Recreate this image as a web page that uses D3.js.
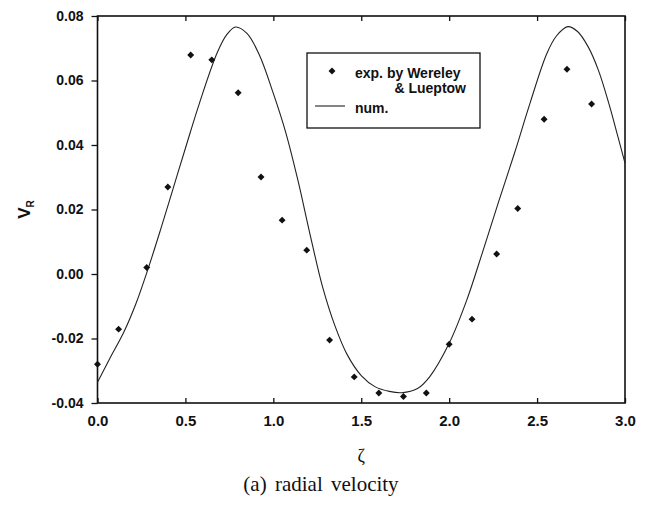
<!DOCTYPE html>
<html>
<head>
<meta charset="utf-8">
<script src="https://cdn.jsdelivr.net/npm/d3@7"></script>
<style>
  body { margin: 0; background: #fff; }
  svg { display: block; }
</style>
</head>
<body>
<div id="chart"></div>
<script>
// Radial velocity: experiment vs numerical

// experimental points (Wereley & Lueptow)
const expZeta = [0.00, 0.12, 0.28, 0.40, 0.53, 0.65, 0.80, 0.93, 1.05, 1.19, 1.32,
                 1.46, 1.60, 1.74, 1.87, 2.00, 2.13, 2.27, 2.39, 2.54, 2.67, 2.81];
const expV = [-0.0280, -0.0171, 0.0020, 0.0270, 0.0679, 0.0664, 0.0562, 0.0301, 0.0167, 0.0074, -0.0205,
              -0.0319, -0.0369, -0.0380, -0.0369, -0.0218, -0.0140, 0.0062, 0.0203, 0.0480, 0.0635, 0.0527];

// numerical curve
const numZeta = [0.00, 0.07, 0.15, 0.22, 0.29, 0.36, 0.43, 0.50, 0.58, 0.68, 0.735, 0.785,
                 0.85, 0.92, 1.00, 1.07, 1.14, 1.21, 1.28, 1.35, 1.42, 1.50, 1.58, 1.66, 1.73,
                 1.82, 1.89, 2.00, 2.10, 2.19, 2.28, 2.37, 2.46, 2.555, 2.61, 2.675,
                 2.73, 2.79, 2.85, 2.91, 2.96, 3.00];
const numV = [-0.0336, -0.0262, -0.0180, -0.0090, 0.0020, 0.0140, 0.0265, 0.0390, 0.0530, 0.0685, 0.0742, 0.0766,
              0.0746, 0.0680, 0.0560, 0.0440, 0.0290, 0.0120, -0.0040, -0.0160, -0.0250, -0.0315, -0.0350, -0.0364, -0.0368,
              -0.0355, -0.0318, -0.0215, -0.0081, 0.0068, 0.0222, 0.0372, 0.0530, 0.0683, 0.0738, 0.0767,
              0.0752, 0.0705, 0.0630, 0.0525, 0.0425, 0.0344];

const xTicks = [0.0, 0.5, 1.0, 1.5, 2.0, 2.5, 3.0];
const yTicks = [-0.04, -0.02, 0.00, 0.02, 0.04, 0.06, 0.08];

const legendLabels = ["exp. by Wereley", "& Lueptow", "num."];

function drawChart() {
    const W = 649, H = 510;
    const margin = {top: 16, right: 24, bottom: 107, left: 97.5},
          width = W - margin.left - margin.right,
          height = H - margin.top - margin.bottom;

    const root = d3.select("#chart").append("svg")
        .attr("width", W)
        .attr("height", H);

    const svg = root.append("g")
        .attr("transform", `translate(${margin.left},${margin.top})`);

    const x = d3.scaleLinear().domain([0, 3]).range([0, width]);
    const y = d3.scaleLinear().domain([-0.04, 0.08]).range([height, 0]);

    const tickFont = "'Liberation Sans', Arial, sans-serif";

    // bottom axis, ticks point inward
    const xAxis = svg.append("g")
        .attr("transform", `translate(0,${height})`)
        .call(d3.axisBottom(x).tickValues(xTicks).tickSize(-5).tickPadding(12)
            .tickFormat(d3.format(".1f")));
    xAxis.select(".domain").remove();
    xAxis.selectAll("text")
        .style("font-family", tickFont)
        .style("font-size", "15px")
        .style("font-weight", "bold")
        .attr("fill", "#111");

    // top ticks (no labels)
    const xTop = svg.append("g")
        .call(d3.axisTop(x).tickValues(xTicks).tickSize(-5).tickFormat(""));
    xTop.select(".domain").remove();

    // left axis, ticks outward
    const yAxis = svg.append("g")
        .call(d3.axisLeft(y).tickValues(yTicks).tickSize(6).tickPadding(8)
            .tickFormat(d => d.toFixed(2)));
    yAxis.select(".domain").remove();
    yAxis.selectAll("text")
        .style("font-family", tickFont)
        .style("font-size", "14px")
        .style("font-weight", "bold")
        .attr("fill", "#111");

    svg.selectAll(".tick line").attr("stroke", "#111").attr("stroke-width", 1.3);

    // frame
    svg.append("rect")
        .attr("x", 0).attr("y", 0)
        .attr("width", width).attr("height", height)
        .attr("fill", "none")
        .attr("stroke", "#111")
        .attr("stroke-width", 1.6);

    // numerical curve
    const numData = numZeta.map((z, i) => ({z: z, v: numV[i]}));
    const line = d3.line()
        .x(d => x(d.z))
        .y(d => y(d.v))
        .curve(d3.curveCatmullRom.alpha(0.5));

    svg.append("path")
        .datum(numData)
        .attr("d", line)
        .attr("fill", "none")
        .attr("stroke", "#222")
        .attr("stroke-width", 1.1);

    // experimental points
    const expData = expZeta.map((z, i) => ({z: z, v: expV[i]}));
    const diamond = d3.symbol().type(d3.symbolSquare).size(24);
    svg.selectAll(".dot")
        .data(expData)
        .enter()
        .append("path")
        .attr("class", "dot")
        .attr("d", diamond)
        .attr("transform", d => `translate(${x(d.z)},${y(d.v)}) rotate(45)`)
        .attr("fill", "#111");

    // legend
    const legend = svg.append("g")
        .attr("transform", `translate(${307 - margin.left},${53 - margin.top})`);

    legend.append("rect")
        .attr("x", 0).attr("y", 0)
        .attr("width", 173).attr("height", 75)
        .attr("fill", "#fff")
        .attr("stroke", "#111")
        .attr("stroke-width", 1.3);

    legend.append("path")
        .attr("d", diamond)
        .attr("transform", "translate(25,18) rotate(45)")
        .attr("fill", "#111");

    legend.append("line")
        .attr("x1", 8).attr("x2", 38)
        .attr("y1", 53).attr("y2", 53)
        .attr("stroke", "#222")
        .attr("stroke-width", 1.1);

    const legText = legend.append("g")
        .style("font-family", tickFont)
        .style("font-size", "14px")
        .style("font-weight", "bold")
        .attr("fill", "#111");

    legText.append("text").attr("x", 48).attr("y", 25).text(legendLabels[0]);
    legText.append("text").attr("x", 159).attr("y", 40)
        .attr("text-anchor", "end").text(legendLabels[1]);
    legText.append("text").attr("x", 48).attr("y", 60).text(legendLabels[2]);

    // y label V_R
    const yLab = root.append("text")
        .attr("transform", `translate(30,${margin.top + height / 2}) rotate(-90)`)
        .attr("text-anchor", "middle")
        .style("font-family", tickFont)
        .style("font-weight", "bold")
        .attr("fill", "#111");
    yLab.append("tspan").style("font-size", "17px").text("V");
    yLab.append("tspan").style("font-size", "10px").attr("dy", 4).text("R");

    // x label zeta
    root.append("text")
        .attr("x", margin.left + x(1.5))
        .attr("y", 462)
        .attr("text-anchor", "middle")
        .style("font-family", "'Liberation Serif', 'Times New Roman', serif")
        .style("font-size", "18px")
        .attr("fill", "#111")
        .text("ζ");

    // caption
    root.append("text")
        .attr("x", 321)
        .attr("y", 491)
        .attr("text-anchor", "middle")
        .style("font-family", "'Liberation Serif', 'Times New Roman', serif")
        .style("font-size", "21px")
        .style("word-spacing", "3px")
        .attr("fill", "#111")
        .text("(a) radial velocity");
}

document.addEventListener('DOMContentLoaded', drawChart);
</script>
</body>
</html>
